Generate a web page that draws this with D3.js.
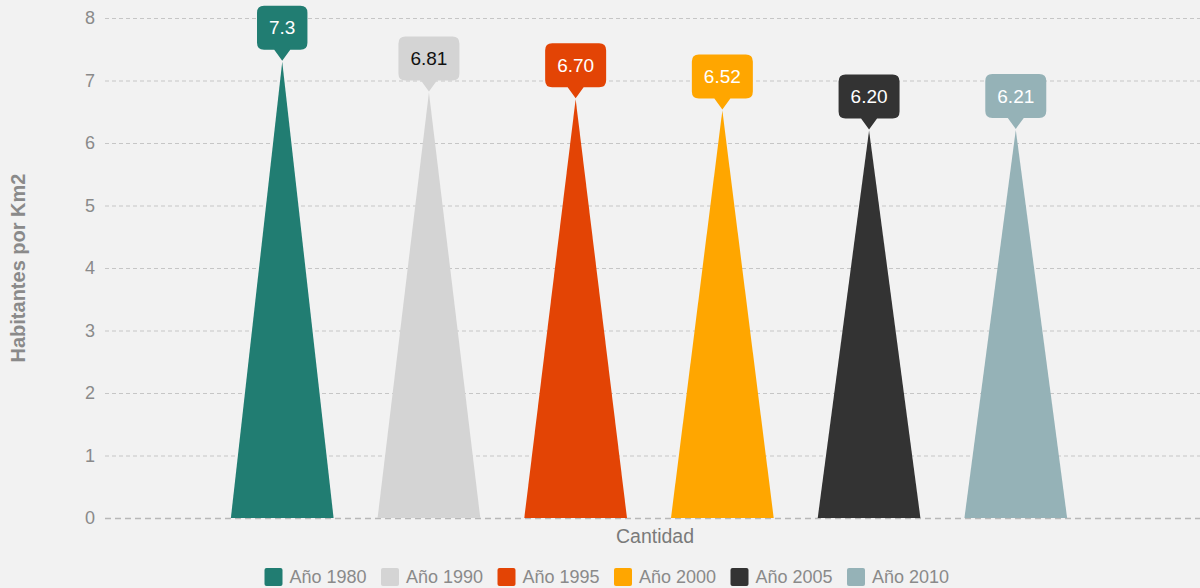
<!DOCTYPE html>
<html>
<head>
<meta charset="utf-8">
<script src="https://cdn.jsdelivr.net/npm/d3@7"></script>
<style>
  html, body { margin: 0; padding: 0; background: #f2f2f2; }
  svg { display: block; font-family: Arial, "Liberation Sans", sans-serif; }
</style>
</head>
<body>
<div id="wrapper"></div>
<script>
// data
const categories = ["Cantidad"]
const seriesNames = ["Año 1980", "Año 1990", "Año 1995", "Año 2000", "Año 2005", "Año 2010"]
const seriesValues = [7.3, 6.81, 6.70, 6.52, 6.20, 6.21]
const valueLabels = ["7.3", "6.81", "6.70", "6.52", "6.20", "6.21"]
const seriesColors = ["#217d72", "#d4d4d4", "#e34405", "#ffa600", "#333333", "#95b2b7"]
const labelTextColors = ["#ffffff", "#111111", "#ffffff", "#ffffff", "#ffffff", "#ffffff"]
const yTicks = [0, 1, 2, 3, 4, 5, 6, 7, 8]

const width = 1200, height = 588
const margin = { top: 18, right: 7, bottom: 70, left: 105 }

const svg = d3.select("#wrapper")
    .append("svg")
        .attr("width", width)
        .attr("height", height)

svg.append("rect")
    .attr("width", width)
    .attr("height", height)
    .attr("fill", "#f2f2f2")

const y = d3.scaleLinear()
    .domain([0, 8])
    .range([height - margin.bottom, margin.top])

const x0 = d3.scaleBand()
    .domain(categories)
    .range([margin.left, width - margin.right])
    .paddingInner(0)
    .paddingOuter(0.118)

const x1 = d3.scaleBand()
    .domain(seriesNames)
    .range([0, x0.bandwidth()])
    .paddingInner(0.3)
    .paddingOuter(0.15)

// grid lines
const grid = svg.append("g")
grid.selectAll("line")
    .data(yTicks)
    .join("line")
    .attr("x1", margin.left)
    .attr("x2", width)
    .attr("y1", d => y(d) + 0.5)
    .attr("y2", d => y(d) + 0.5)
    .attr("stroke", d => d === 0 ? "#b8b8b8" : "#c6c6c6")
    .attr("stroke-width", d => d === 0 ? 1.4 : 1)
    .attr("stroke-dasharray", d => d === 0 ? "6,4" : "4,3")

// y tick labels
svg.append("g")
    .selectAll("text")
    .data(yTicks)
    .join("text")
    .attr("x", 95)
    .attr("y", d => y(d))
    .attr("dy", "0.35em")
    .attr("text-anchor", "end")
    .attr("font-size", 18)
    .attr("fill", "#8a8a8a")
    .text(d => d)

// y axis title
svg.append("text")
    .attr("transform", `translate(25,${(y(0) + y(8)) / 2}) rotate(-90)`)
    .attr("text-anchor", "middle")
    .attr("font-size", 20)
    .attr("font-weight", "bold")
    .attr("fill", "#8a8a8a")
    .text("Habitantes por Km2")

// x category label
svg.append("g")
    .selectAll("text")
    .data(categories)
    .join("text")
    .attr("x", d => x0(d) + x0.bandwidth() / 2 + 6)
    .attr("y", y(0) + 25)
    .attr("text-anchor", "middle")
    .attr("font-size", 19.5)
    .attr("fill", "#7a7a7a")
    .text(d => d)

// pyramids
const points = seriesNames.map((name, i) => ({
    name: name,
    cat: categories[0],
    value: seriesValues[i],
    label: valueLabels[i],
    color: seriesColors[i],
    textColor: labelTextColors[i]
}))

const bounds = svg.append("g")

bounds.selectAll("path.pyramid")
    .data(points)
    .join("path")
    .attr("class", "pyramid")
    .attr("fill", d => d.color)
    .attr("d", d => {
        const left = x0(d.cat) + x1(d.name)
        const right = left + x1.bandwidth()
        const mid = left + x1.bandwidth() / 2
        return `M${left},${y(0)} L${mid},${y(d.value)} L${right},${y(0)} Z`
    })

// callout labels
const labels = bounds.selectAll("g.callout")
    .data(points)
    .join("g")
    .attr("class", "callout")
    .attr("font-size", 19)

labels.each(function(d) {
    const g = d3.select(this)
    const cx = x0(d.cat) + x1(d.name) + x1.bandwidth() / 2
    const tipY = y(d.value) - 1
    const txt = g.append("text")
        .attr("x", cx)
        .attr("text-anchor", "middle")
        .attr("fill", d.textColor)
        .text(d.label)
    const tw = txt.node().getComputedTextLength()
    const w = tw + 24, h = 44, r = 7, pH = 11, pW = 8
    const bx = cx - w / 2, by = tipY - pH - h
    const bottom = by + h
    const path = `M${bx + r},${by} H${bx + w - r} Q${bx + w},${by} ${bx + w},${by + r}` +
        ` V${bottom - r} Q${bx + w},${bottom} ${bx + w - r},${bottom}` +
        ` H${cx + pW} L${cx},${tipY} L${cx - pW},${bottom}` +
        ` H${bx + r} Q${bx},${bottom} ${bx},${bottom - r} V${by + r} Q${bx},${by} ${bx + r},${by} Z`
    g.insert("path", "text")
        .attr("d", path)
        .attr("fill", d.color)
    txt.attr("y", by + h / 2).attr("dy", "0.35em")
})

// legend
const legendStep = 116.5
const legend = svg.append("g")
    .attr("transform", `translate(${width / 2 - legendStep * seriesNames.length / 2 + 14},568)`)

const items = legend.selectAll("g")
    .data(seriesNames)
    .join("g")
    .attr("transform", (d, i) => `translate(${i * legendStep},0)`)

items.append("rect")
    .attr("width", 18)
    .attr("height", 18)
    .attr("rx", 2)
    .attr("fill", (d, i) => seriesColors[i])

items.append("text")
    .attr("x", 25)
    .attr("y", 9)
    .attr("dy", "0.35em")
    .attr("font-size", 18)
    .attr("fill", "#8a8a8a")
    .text(d => d)
</script>
</body>
</html>
